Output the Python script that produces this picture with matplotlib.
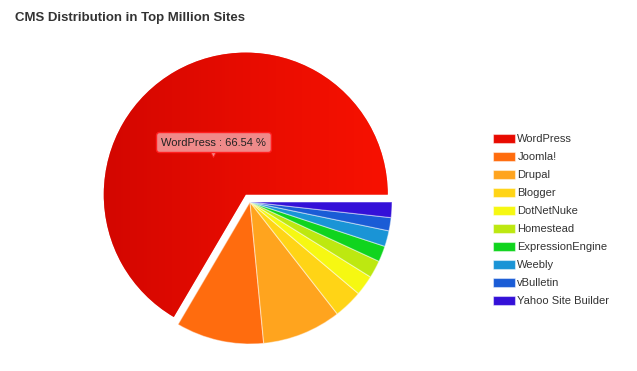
import matplotlib.pyplot as plt
import numpy as np
from matplotlib.colors import LinearSegmentedColormap

cms_names = [
    "WordPress", "Joomla!", "Drupal", "Blogger", "DotNetNuke",
    "Homestead", "ExpressionEngine", "Weebly", "vBulletin", "Yahoo Site Builder",
]
cms_share = [66.54, 10.0, 9.0, 3.3, 2.3, 2.0, 1.8, 1.8, 1.5, 1.76]
cms_colors = [
    "#e80a00", "#ff6c0e", "#ffa41e", "#ffd416", "#f6f812",
    "#bde810", "#10d41e", "#1a94d6", "#1a5cd6", "#3410d8",
]
explode = [0.06, 0, 0, 0, 0, 0, 0, 0, 0, 0]

fig = plt.figure(figsize=(6.37, 3.71), dpi=100)
fig.text(15 / 637, 1 - 18 / 371, "CMS Distribution in Top Million Sites",
         fontsize=9.5, fontweight="bold", color="#333333",
         family="Liberation Sans", va="center", ha="left")

# pie axes: radius 1 -> ~142 px, centre at (250, 202) px
ax = fig.add_axes([72.5 / 637, -8.5 / 371, 355 / 637, 355 / 371])
wedges, _ = ax.pie(
    cms_share, colors=cms_colors, explode=explode, startangle=0,
    counterclock=True,
    wedgeprops=dict(edgecolor=(1, 1, 1, 0.45), linewidth=0.8),
)

# horizontal shading on the big slice (darker on the left)
shade = LinearSegmentedColormap.from_list("wp", ["#d20600", "#e80c00", "#fa1200"])
grad = ax.imshow(np.linspace(0, 1, 256)[None, :], cmap=shade, aspect="auto",
                 extent=(-1.1, 1.1, -1.1, 1.1), zorder=wedges[0].get_zorder() + 0.1)
grad.set_clip_path(wedges[0])

ax.set_xlim(-1.25, 1.25)
ax.set_ylim(-1.25, 1.25)
ax.set_aspect("equal")
ax.axis("off")

# tooltip on the WordPress slice
ax.plot([-0.262], [0.335], marker="v", markersize=5, color="#f08a8a",
        markeredgecolor="#ff2020", markeredgewidth=0.6, zorder=5)
ax.text(
    -0.254, 0.419, f"{cms_names[0]} : {cms_share[0]:.2f} %",
    ha="center", va="center", fontsize=8, color="#222222",
    family="Liberation Sans", zorder=6,
    bbox=dict(boxstyle="round,pad=0.45,rounding_size=0.3",
              facecolor="#f08a8a", edgecolor="#ff2020", linewidth=1.0),
)

ax.legend(
    wedges, cms_names, loc="upper left",
    bbox_to_anchor=(493 / 637, 1 - 134 / 371), bbox_transform=fig.transFigure,
    frameon=False, prop={"family": "Liberation Sans", "size": 8},
    handlelength=2.0, handleheight=0.9, handletextpad=0.2,
    labelspacing=0.68, borderaxespad=0, borderpad=0,
    labelcolor="#333333",
)

fig.savefig("out.png", dpi=100, facecolor="white")
